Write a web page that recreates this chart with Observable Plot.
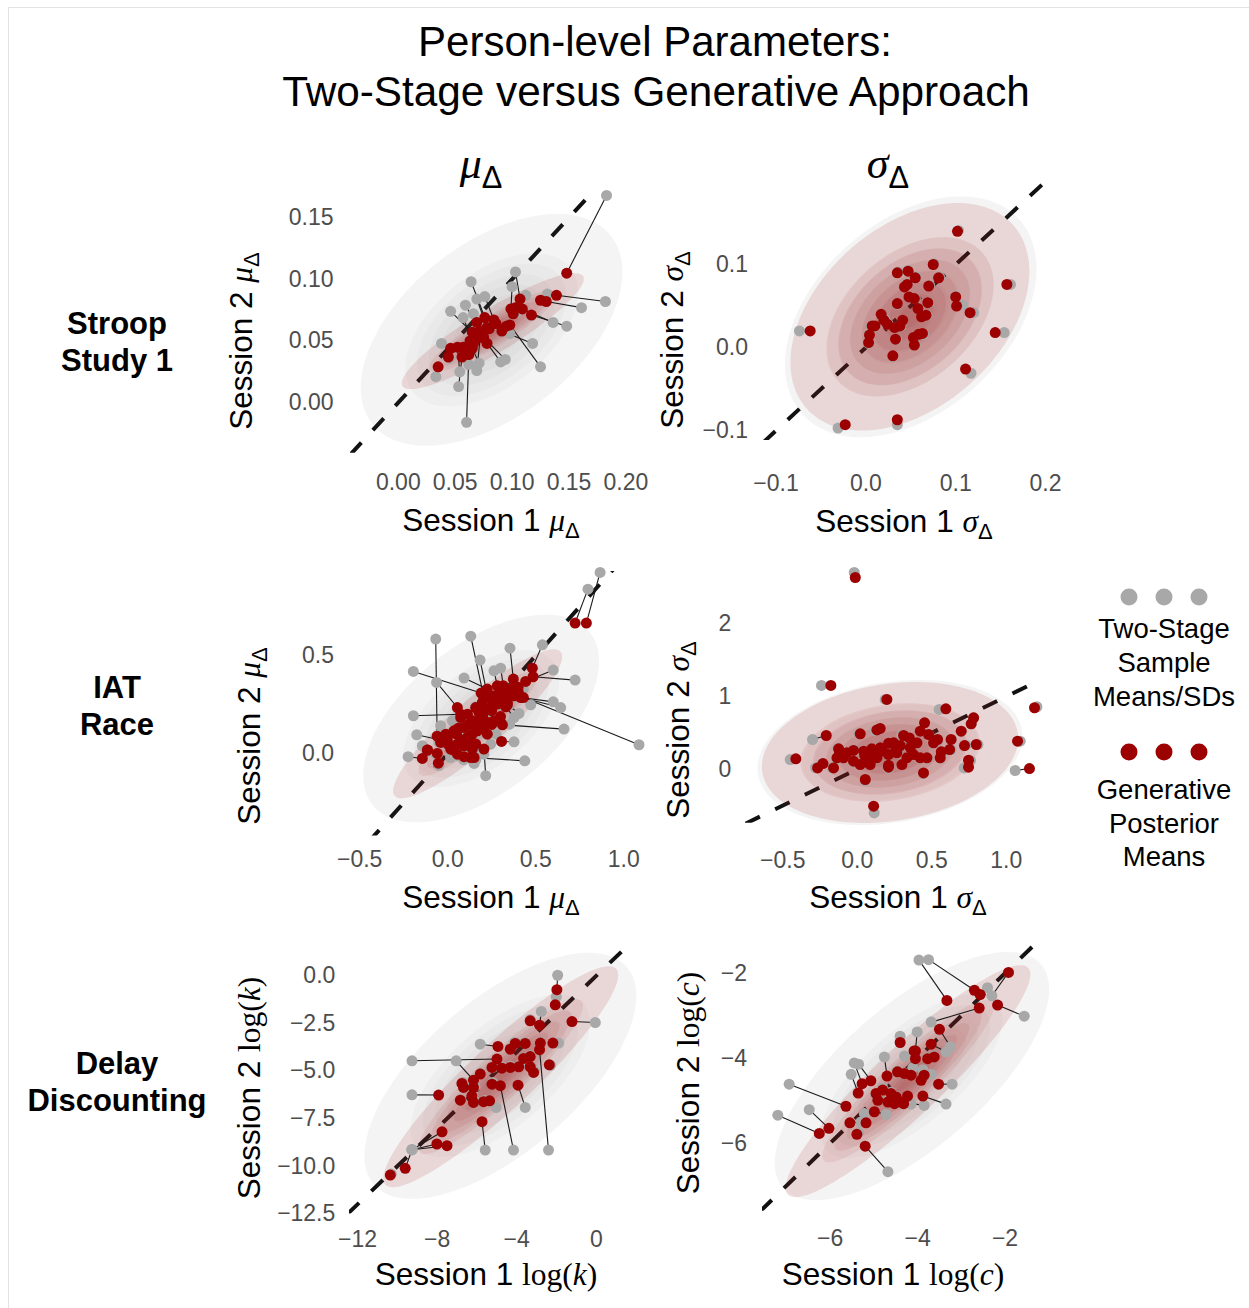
<!DOCTYPE html>
<html><head><meta charset="utf-8">
<script src="https://cdn.jsdelivr.net/npm/d3@7"></script>
<script src="https://cdn.jsdelivr.net/npm/@observablehq/plot@0.6"></script>
<style>
body{margin:0;background:#fff;overflow:hidden;font-family:"Liberation Sans",Arial,sans-serif;}
#page{position:relative;width:1249px;height:1308px;overflow:hidden;background:#fff;}
#frame{position:absolute;left:8px;top:7px;width:1300px;height:1400px;border:1px solid #e3e3e3;}
.abs{position:absolute;white-space:nowrap;line-height:1;}
.c{transform:translate(-50%,-50%);}
.rot{transform:translate(-50%,-50%) rotate(-90deg);}
.m{font-family:"Liberation Serif",serif;font-style:italic;}
.rm{font-family:"Liberation Serif",serif;font-style:normal;}
.sub{font-size:0.7em;position:relative;top:0.32em;}
.dot{position:absolute;border-radius:50%;width:17px;height:17px;transform:translate(-50%,-50%);}
</style></head><body><div id="page"><div id="frame"></div></div>
<script>
// ---------------- DATA: [two-stage S1, two-stage S2, generative S1, generative S2] ----------------
const stroopMu = [
[0.183,0.168,0.148,0.105],[0.182,0.082,0.139,0.087],[0.161,0.077,0.130,0.082],[0.148,0.062,0.117,0.071],
[0.136,0.065,0.109,0.076],[0.125,0.029,0.098,0.063],[0.118,0.048,0.091,0.058],[0.060,-0.016,0.062,0.039],
[0.103,0.106,0.107,0.084],[0.100,0.094,0.099,0.076],[0.064,0.098,0.076,0.069],[0.069,0.084,0.078,0.061],
[0.076,0.086,0.084,0.067],[0.059,0.079,0.072,0.058],[0.046,0.074,0.065,0.057],[0.057,0.069,0.066,0.048],
[0.038,0.048,0.046,0.044],[0.033,0.021,0.035,0.029],[0.053,0.013,0.056,0.037],[0.054,0.025,0.052,0.045],
[0.069,0.026,0.072,0.053],[0.090,0.033,0.078,0.048],[0.094,0.035,0.075,0.053],[0.062,0.031,0.057,0.045],
[0.131,0.088,0.125,0.083],[0.112,0.087,0.103,0.077],[0.098,0.056,0.095,0.062],[0.045,0.036,0.044,0.037],
[0.066,0.072,0.069,0.065],[0.071,0.032,0.065,0.044],[0.080,0.060,0.080,0.060],[0.087,0.063,0.086,0.064],
[0.070,0.054,0.070,0.053],[0.104,0.073,0.101,0.072],[0.063,0.051,0.063,0.050]
];
const stroopSigma = [
[0.103,0.141,0.102,0.140],[0.161,0.076,0.157,0.076],[0.076,0.101,0.075,0.100],[0.036,0.091,0.035,0.090],
[0.047,0.093,0.047,0.092],[0.056,0.085,0.055,0.084],[0.044,0.074,0.043,0.073],[0.046,0.077,0.046,0.076],
[0.071,0.075,0.070,0.074],[0.082,0.085,0.081,0.084],[0.049,0.061,0.048,0.061],[0.055,0.059,0.054,0.059],
[0.035,0.052,0.035,0.053],[0.059,0.047,0.058,0.047],[0.070,0.054,0.069,0.054],[0.100,0.062,0.100,0.061],
[0.108,0.051,0.101,0.050],[0.120,0.042,0.116,0.042],[0.063,0.037,0.062,0.037],[0.068,0.039,0.067,0.039],
[0.017,0.040,0.017,0.040],[0.021,0.034,0.020,0.033],[0.025,0.028,0.024,0.028],[0.032,0.024,0.032,0.024],
[0.041,0.033,0.041,0.033],[0.039,0.026,0.038,0.026],[0.006,0.026,0.007,0.026],[0.010,0.025,0.010,0.026],
[0.003,0.015,0.004,0.015],[0.003,0.005,0.003,0.006],[0.034,0.010,0.033,0.010],[0.054,0.012,0.053,0.012],
[0.060,0.016,0.059,0.016],[0.064,0.016,0.063,0.017],[0.055,0.003,0.054,0.003],[0.030,-0.011,0.030,-0.010],
[0.154,0.018,0.144,0.018],[0.117,-0.031,0.111,-0.026],[-0.074,0.020,-0.062,0.020],[-0.031,-0.097,-0.023,-0.093],
[0.035,-0.093,0.035,-0.087]
];
const iatMu = [
[0.866,0.925,0.788,0.667],[0.797,0.840,0.724,0.667],[0.538,0.556,0.481,0.437],[0.724,0.376,0.485,0.393],
[0.600,0.427,0.443,0.369],[0.354,0.539,0.373,0.381],[0.131,0.600,0.205,0.290],[-0.068,0.585,-0.060,0.090],
[-0.195,0.420,0.190,0.310],[0.184,0.478,0.225,0.300],[-0.063,0.364,0.055,0.236],[0.093,0.386,0.225,0.330],
[0.263,0.423,0.282,0.347],[0.301,0.437,0.316,0.347],[-0.195,0.194,0.074,0.202],[-0.176,0.097,-0.002,0.063],
[-0.225,-0.015,-0.144,-0.024],[-0.144,0.041,-0.115,0.019],[0.216,-0.112,0.206,0.024],[0.150,-0.049,0.140,0.024],
[0.438,-0.036,0.131,-0.019],[0.377,0.061,0.306,0.063],[0.661,0.126,0.311,0.148],[1.087,0.046,0.430,0.287],
[0.600,0.265,0.415,0.287],[0.642,0.236,0.377,0.296],[0.472,0.250,0.405,0.300],[0.405,0.206,0.339,0.250],
[0.244,0.049,0.225,0.100],[0.206,-0.002,0.159,0.050],
[0.370,0.335,0.362,0.330],[0.275,0.290,0.267,0.296],[0.200,0.250,0.197,0.262],[0.170,0.200,0.178,0.211],
[0.230,0.240,0.225,0.228],[0.130,0.170,0.140,0.168],[0.100,0.120,0.093,0.134],[0.030,0.110,0.036,0.117],
[0.000,0.080,-0.002,0.083],[-0.050,0.060,-0.040,0.058],[0.080,0.190,0.074,0.185],[0.120,0.200,0.112,0.202],
[0.160,0.240,0.159,0.236],[0.260,0.270,0.254,0.270],[0.290,0.250,0.282,0.254],[0.350,0.250,0.339,0.262],
[0.270,0.160,0.263,0.168],[0.210,0.120,0.206,0.134],[0.180,0.110,0.169,0.117],[0.120,0.070,0.112,0.083],
[0.060,0.040,0.055,0.049],[0.020,0.020,0.017,0.024],[0.100,0.030,0.093,0.041],[0.150,0.090,0.140,0.100],
[0.190,0.170,0.188,0.177],[0.160,-0.030,0.150,-0.019],[0.090,-0.030,0.093,-0.015],[-0.070,0.000,-0.059,0.002],
[-0.120,0.010,-0.115,0.019],[-0.050,-0.060,-0.053,-0.048],[0.060,-0.010,0.055,-0.002],[0.300,0.310,0.300,0.320],
[0.120,0.140,0.120,0.150],[0.050,0.090,0.050,0.100],[0.010,0.040,0.000,0.050],[0.210,0.190,0.200,0.200],
[0.260,0.210,0.250,0.220],[0.320,0.270,0.310,0.280],[0.360,0.290,0.350,0.300],[0.410,0.330,0.400,0.340],
[0.070,0.050,0.080,0.070],[0.150,0.130,0.160,0.140],[0.230,0.180,0.230,0.160],
[0.430,0.330,0.400,0.320],[0.377,0.185,0.330,0.240],[0.352,0.151,0.300,0.190],[0.275,0.100,0.250,0.150],
[0.027,0.168,0.060,0.130],[-0.040,0.143,-0.010,0.100],[-0.040,0.100,-0.020,0.070],[0.017,-0.019,0.030,0.020],
[0.169,0.002,0.150,0.050]
];
const iatSigma = [
[-0.020,2.71,-0.013,2.64],[-0.240,1.154,-0.177,1.154],[0.188,0.961,0.199,0.961],[0.550,0.823,0.595,0.832],
[1.206,0.860,1.190,0.846],[0.781,0.708,0.781,0.708],[0.765,0.625,0.765,0.625],[0.452,0.639,0.452,0.639],
[0.423,0.524,0.423,0.524],[0.479,0.478,0.479,0.478],[0.698,0.524,0.698,0.524],[0.545,0.410,0.539,0.409],
[0.515,0.360,0.512,0.363],[-0.300,0.409,-0.208,0.464],[-0.450,0.133,-0.412,0.143],[1.094,0.386,1.076,0.386],
[0.810,0.340,0.799,0.340],[0.730,0.330,0.720,0.326],[0.630,0.270,0.620,0.271],[0.570,0.240,0.564,0.239],
[0.560,0.150,0.557,0.156],[0.760,0.120,0.747,0.124],[0.718,0.018,0.747,0.028],[1.060,-0.018,1.156,0.009],
[0.445,-0.060,0.445,-0.051],[0.054,-0.160,0.054,-0.142],[0.114,-0.603,0.110,-0.510],[0.010,0.490,0.020,0.487],
[0.150,0.560,0.154,0.561],[0.120,0.530,0.132,0.540],[-0.280,0.020,-0.266,0.018],[-0.240,0.070,-0.230,0.078],
[-0.170,0.020,-0.159,0.018],[0.300,0.470,0.311,0.464],[0.400,0.360,0.401,0.363],[0.350,0.290,0.356,0.294],
[0.290,0.330,0.289,0.326],[0.240,0.360,0.244,0.363],[0.210,0.360,0.210,0.356],[0.150,0.300,0.154,0.294],
[0.100,0.280,0.098,0.280],[0.040,0.250,0.043,0.248],[-0.020,0.260,-0.025,0.258],[-0.070,0.220,-0.069,0.225],
[-0.130,0.290,-0.125,0.280],[-0.120,0.210,-0.119,0.211],[-0.140,0.140,-0.136,0.156],[-0.090,0.160,-0.092,0.156],
[-0.030,0.110,-0.025,0.110],[0.020,0.060,0.020,0.064],[0.090,0.070,0.087,0.064],[0.130,0.150,0.132,0.156],
[0.210,0.200,0.210,0.202],[0.270,0.220,0.266,0.225],[0.330,0.150,0.333,0.156],[0.380,0.200,0.378,0.202],
[0.420,0.150,0.423,0.156],[0.470,0.150,0.468,0.156],[0.210,0.010,0.210,0.028],[0.300,0.070,0.300,0.064],
[0.070,0.110,0.065,0.110],[0.110,0.200,0.110,0.202],[0.210,0.060,0.210,0.055],[0.050,0.190,0.050,0.190],
[0.170,0.250,0.170,0.250],[0.260,0.280,0.260,0.280],[0.350,0.430,0.350,0.430],[0.630,0.400,0.630,0.410]
];
const delayK = [
[-1.94,0.03,-1.98,-0.73],[-2.01,-1.10,-2.06,-1.52],[-2.76,-1.87,-2.85,-2.59],[-0.05,-2.45,-1.22,-2.40],
[-5.83,-3.59,-4.94,-3.71],[-9.26,-4.46,-4.99,-4.37],[-7.04,-4.46,-6.17,-5.48],[-9.26,-6.25,-7.92,-6.26],
[-5.58,-9.15,-5.74,-7.66],[-4.16,-9.15,-4.82,-5.77],[-2.40,-9.15,-2.85,-3.88],[-9.26,-9.13,-7.75,-8.19],
[-9.26,-9.13,-8.01,-8.83],[-9.26,-9.13,-7.50,-8.92],[-9.26,-9.13,-9.60,-10.11],[-10.30,-10.40,-10.35,-10.46],
[-3.57,-6.91,-3.93,-5.74],[-5.03,-6.91,-5.36,-6.56],[-1.89,-3.53,-2.18,-3.53],[-2.30,-4.70,-2.36,-4.67],
[-3.32,-2.30,-3.32,-2.36],[-4.30,-3.80,-4.32,-3.85],[-4.10,-3.50,-4.07,-3.55],[-3.60,-3.50,-3.57,-3.55],
[-2.80,-3.50,-2.81,-3.53],[-3.60,-4.30,-3.65,-4.34],[-3.30,-4.20,-3.32,-4.24],[-3.25,-4.80,-3.32,-4.78],
[-5.20,-4.80,-5.24,-4.81],[-4.70,-4.80,-4.74,-4.85],[-4.30,-4.75,-4.32,-4.81],[-3.85,-4.70,-3.90,-4.78],
[-5.80,-5.10,-5.83,-5.16],[-6.70,-5.60,-6.75,-5.65],[-6.60,-5.80,-6.67,-5.86],[-6.10,-5.80,-6.17,-5.86],
[-5.20,-5.60,-5.24,-5.69],[-6.80,-6.50,-6.83,-6.53],[-6.10,-6.60,-6.17,-6.65],[-5.60,-6.55,-5.66,-6.61],
[-6.20,-6.25,-6.25,-6.30],[-3.10,-5.00,-3.15,-5.07]
];
const delayC = [
[-2.30,-2.53,-1.92,-1.98],[-3.97,-1.69,-3.33,-2.64],[-3.75,-1.68,-2.70,-2.40],[-2.40,-2.34,-2.57,-2.50],
[-1.56,-3.01,-2.17,-2.75],[-3.69,-3.15,-2.59,-2.82],[-4.01,-3.38,-4.05,-3.83],[-4.40,-3.48,-4.40,-3.63],
[-3.25,-3.73,-3.50,-3.32],[-3.35,-3.85,-3.69,-3.67],[-4.76,-3.97,-4.70,-4.42],[-4.30,-3.95,-4.08,-3.83],
[-5.45,-4.11,-5.27,-4.60],[-5.35,-4.14,-5.07,-4.53],[-5.52,-4.38,-5.36,-4.82],[-6.94,-4.61,-5.64,-5.13],
[-6.48,-5.21,-6.03,-5.65],[-7.20,-5.34,-6.25,-5.77],[-4.68,-6.67,-5.20,-6.07],[-3.21,-4.61,-3.52,-4.61],
[-3.35,-5.08,-3.88,-4.89],[-4.11,-4.22,-4.15,-4.40],[-3.88,-4.27,-3.85,-4.40],[-3.69,-4.38,-3.92,-4.52],
[-3.85,-5.11,-4.38,-5.03],[-4.15,-5.08,-4.23,-4.89],[-4.72,-5.32,-4.99,-5.26],[-5.22,-5.30,-5.18,-5.52],
[-5.30,-5.50,-5.55,-5.52],[-5.35,-5.75,-5.39,-5.79],[-4.95,-4.87,-4.95,-4.83],[-4.80,-4.70,-4.80,-4.75],
[-4.61,-4.80,-4.61,-4.83],[-4.91,-4.95,-4.91,-4.99],[-4.68,-5.00,-4.68,-5.03],[-4.49,-4.90,-4.49,-4.91],
[-4.32,-5.07,-4.32,-5.07],[-4.53,-5.07,-4.53,-5.07],[-4.46,-4.30,-4.46,-4.32],[-4.30,-4.35,-4.30,-4.36],
[-3.77,-4.00,-3.77,-4.01],[-3.62,-3.95,-3.62,-3.97],[-4.05,-4.00,-4.05,-4.01]
];
// bivariate normal outer contours: [meanX, meanY, halfExtentX, halfExtentY, correlation]
const grayEllipses = [
[0.082,0.059,0.115,0.094,0.5],[0.050,0.037,0.140,0.145,0.4],[0.19,0.18,0.67,0.53,0.55],
[0.22,0.23,0.89,1.0,0.22],[-4.82,-5.25,6.83,6.46,0.65],[-4.13,-4.42,3.14,2.92,0.7]
];
const redEllipses = [
[0.083,0.058,0.080,0.047,0.9],[0.049,0.037,0.133,0.137,0.4],[0.17,0.153,0.48,0.38,0.9],
[0.22,0.23,0.86,0.97,0.2],[-4.8,-5.3,5.9,5.8,0.92],[-4.22,-4.54,2.8,2.73,0.92]
];
const xTicks = [[0,0.05,0.1,0.15,0.2],[-0.1,0,0.1,0.2],[-0.5,0,0.5,1.0],[-0.5,0,0.5,1.0],[-12,-8,-4,0],[-6,-4,-2]];
const yTicks = [[0,0.05,0.1,0.15],[-0.1,0,0.1],[0,0.5],[0,1,2],[0,-2.5,-5,-7.5,-10,-12.5],[-6,-4,-2]];
const xFormats = [".2f",".1f",".1f",".1f","d","d"];
const yFormats = [".2f",".1f",".1f","d",".1f","d"];
const xDomains = [[-0.042,0.20],[-0.114,0.20],[-0.45,1.12],[-0.75,1.21],[-12.4,1.8],[-7.55,-1.3]];
const yDomains = [[-0.041,0.172],[-0.112,0.20],[-0.42,0.93],[-0.745,2.75],[-12.5,1.75],[-7.6,-1.3]];
const panelData = [stroopMu, stroopSigma, iatMu, iatSigma, delayK, delayC];

// ---------------- LAYOUT ----------------
const boxes = [[350.2,189.9,625.6,452.6],[762.6,181,1044.6,440],[367.8,570.7,644.1,835.3],
               [745.3,568.6,1037.3,822.4],[349.2,941.7,631.8,1213.1],[761.5,943.3,1034.6,1211]];
const xPads = [20.5,34,15,28,16.5,18];
const yPads = [17,15.5,34.5,14.3,14.2,15.5];
const grayLevels = [1,0.66,0.57,0.48,0.39,0.30,0.21,0.12];
const grayOps = [0.065,0.035,0.03,0.03,0.03,0.03,0.03,0.03];
const redLevels = [1,0.70,0.60,0.50,0.40,0.30,0.20,0.10];
const redOps = [0.13,0.075,0.075,0.075,0.075,0.075,0.075,0.075];
const GRAY="#a8a8a8", RED="#9c0000", REDFILL="#a01010";

const page = document.getElementById("page");
function ellipsePts(e, f, n=144){
  const [mx,my,ax,ay,r]=e, s=Math.sqrt(1-r*r);
  return d3.range(n).map(i=>{const t=2*Math.PI*i/n;return [mx+ax*f*Math.cos(t), my+ay*f*(r*Math.cos(t)+s*Math.sin(t))];});
}
const ML=90, MR=30, MT=20, MB=50;
panelData.forEach((data,i)=>{
  const [l,t,r,b]=boxes[i];
  const lo=Math.min(xDomains[i][0],yDomains[i][0]), hi=Math.max(xDomains[i][1],yDomains[i][1]);
  const marks=[Plot.line([[lo,lo],[hi,hi]],{stroke:"#111",strokeWidth:4,strokeDasharray:"16,17",strokeLinecap:"butt",clip:true})];
  grayLevels.forEach((f,k)=>marks.push(Plot.line(ellipsePts(grayEllipses[i],f),{curve:"linear-closed",fill:"#555",fillOpacity:grayOps[k],stroke:"none"})));
  redLevels.forEach((f,k)=>marks.push(Plot.line(ellipsePts(redEllipses[i],f),{curve:"linear-closed",fill:REDFILL,fillOpacity:redOps[k],stroke:"none"})));
  marks.push(Plot.link(data,{x1:d=>d[0],y1:d=>d[1],x2:d=>d[2],y2:d=>d[3],stroke:"#1a1a1a",strokeWidth:1.1}));
  marks.push(Plot.dot(data,{x:d=>d[0],y:d=>d[1],r:5.5,fill:GRAY,stroke:"none"}));
  marks.push(Plot.dot(data,{x:d=>d[2],y:d=>d[3],r:5.5,fill:RED,stroke:"none"}));
  marks.push(Plot.axisX({ticks:xTicks[i],tickFormat:d3.format(xFormats[i]),tickSize:0,tickPadding:xPads[i],fontSize:23,color:"#4d4d4d",label:null}));
  marks.push(Plot.axisY({ticks:yTicks[i],tickFormat:d3.format(yFormats[i]),tickSize:0,tickPadding:yPads[i],fontSize:23,color:"#4d4d4d",label:null}));
  const svg=Plot.plot({
    width:(r-l)+ML+MR, height:(b-t)+MT+MB, marginLeft:ML, marginRight:MR, marginTop:MT, marginBottom:MB,
    x:{domain:xDomains[i]}, y:{domain:yDomains[i]},
    style:{background:"transparent",overflow:"visible",fontFamily:"'Liberation Sans',Arial,sans-serif"},
    marks
  });
  svg.style.position="absolute"; svg.style.left=(l-ML)+"px"; svg.style.top=(t-MT)+"px";
  page.appendChild(svg);
});

// ---------------- TEXT ----------------
function txt(html,x,y,css,cls="abs c"){const d=document.createElement("div");d.className=cls;d.innerHTML=html;d.style.left=x+"px";d.style.top=y+"px";d.style.cssText+=css;page.appendChild(d);return d;}
txt("Person-level Parameters:",655,42,"font-size:42px;color:#000;");
txt("Two-Stage versus Generative Approach",656,92,"font-size:42.3px;color:#000;");
txt('<span class="m">μ</span><span class="sub">Δ</span>',481,163,"font-size:44px;");
txt('<span class="m">σ</span><span class="sub">Δ</span>',888,163,"font-size:44px;");
const rowLbl=[["Stroop",323],["Study 1",360],["IAT",687],["Race",724],["Delay",1063],["Discounting",1100]];
rowLbl.forEach(([s,y])=>txt(s,117,y,"font-size:31px;font-weight:bold;"));
const mu='<span class="m">μ</span><span class="sub">Δ</span>', sg='<span class="m">σ</span><span class="sub">Δ</span>';
const lk='<span class="rm">log(</span><span class="m">k</span><span class="rm">)</span>', lc='<span class="rm">log(</span><span class="m">c</span><span class="rm">)</span>';
const xt=[["Session 1 "+mu,491,521],["Session 1 "+sg,904,522],["Session 1 "+mu,491,898],["Session 1 "+sg,898,898],["Session 1 "+lk,486,1275],["Session 1 "+lc,893,1275]];
const yt=[["Session 2 "+mu,242,341],["Session 2 "+sg,673,340],["Session 2 "+mu,250,736],["Session 2 "+sg,679,730],["Session 2 "+lk,250,1088],["Session 2 "+lc,689,1083]];
xt.forEach(([h,x,y])=>txt(h,x,y,"font-size:31.5px;"));
yt.forEach(([h,x,y])=>txt(h,x,y,"font-size:31.5px;","abs rot"));
// legend
[1129,1164,1199].forEach(x=>{const d=document.createElement("div");d.className="dot";d.style.left=x+"px";d.style.top="597px";d.style.background=GRAY;page.appendChild(d);
  const e=document.createElement("div");e.className="dot";e.style.left=x+"px";e.style.top="752px";e.style.background=RED;page.appendChild(e);});
[["Two-Stage",629],["Sample",663],["Means/SDs",697],["Generative",790],["Posterior",824],["Means",857]].forEach(([s,y])=>txt(s,1164,y,"font-size:27.5px;"));
</script></body></html>
